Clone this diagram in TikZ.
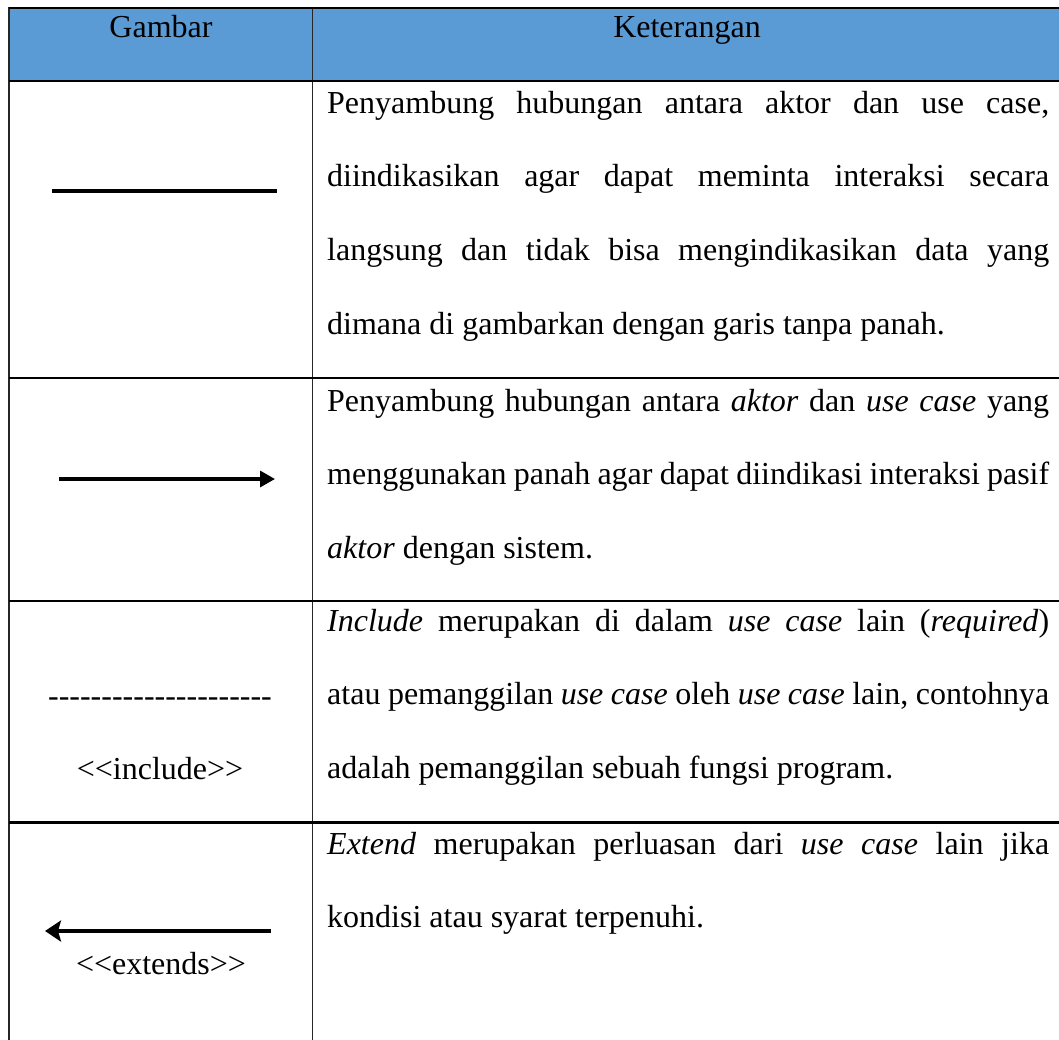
\documentclass[tikz,border=0pt]{standalone}
\usepackage{fontspec}
\setmainfont{Liberation Serif}[Ligatures=TeXOff]
\usetikzlibrary{arrows.meta}
\definecolor{hdrblue}{HTML}{5B9BD5}
\hyphenpenalty=10000
\tolerance=9999
\newcommand{\ketstrut}{\rule{0pt}{26pt}}

\begin{document}
\begin{tikzpicture}[x=1pt, y=-1pt,
  colline/.style={line width=1.8pt, black!85},
  rowline/.style={line width=2.4pt},
  keter/.style={anchor=north west, inner sep=0pt, text width=722pt, align=justify,
    font=\fontsize{32}{73.6}\selectfont},
  lbl/.style={anchor=base, inner sep=0pt, font=\fontsize{32}{38}\selectfont},
  garis/.style={line width=3.5pt},
  panah/.style={line width=3.3pt, -{Triangle[length=15pt,width=16pt]}},
  panahext/.style={line width=3.8pt, -{Stealth[length=16pt,width=21pt,inset=3pt]}}
]
\useasboundingbox (0,0) rectangle (1059,1039);
%\draw[help lines] (0,0) grid[step=100] (1059,1039);

% header
\fill[hdrblue] (9,8) rectangle (1062,81);
\node[lbl] (gbr) at (161,37) {Gambar};
\node[lbl] (ket) at (687,37) {Keterangan};

% grid
\foreach \x in {9,312.5,1062}
  \draw[colline] (\x,7) -- (\x,1045);
\foreach \y in {8,81,378,601,822.5}
  \draw[rowline] (9,\y) -- (1062,\y);

% keterangan
\node[keter] (k1) at (327,87) {\ketstrut Penyambung hubungan antara aktor dan use case,\linebreak
  diindikasikan agar dapat meminta interaksi secara\linebreak
  langsung dan tidak bisa mengindikasikan data yang\linebreak
  dimana di gambarkan dengan garis tanpa panah.};
\node[keter] (k2) at (327,385) {\ketstrut Penyambung hubungan antara \emph{aktor} dan \emph{use case} yang\linebreak
  menggunakan panah agar dapat diindikasi interaksi pasif\linebreak
  \emph{aktor} dengan sistem.};
\node[keter] (k3) at (327,605) {\ketstrut\emph{Include} merupakan di dalam \emph{use case} lain (\emph{required})\linebreak
  atau pemanggilan \emph{use case} oleh \emph{use case} lain, contohnya\linebreak
  adalah pemanggilan sebuah fungsi program.};
\node[keter] (k4) at (327,828) {\ketstrut\emph{Extend} merupakan perluasan dari \emph{use case} lain jika\linebreak
  kondisi atau syarat terpenuhi.};

% gambar
\coordinate (a1) at (52,191);
\coordinate (b1) at (277,191);
\draw[garis] (a1) -- (b1);

\coordinate (a2) at (59,479);
\coordinate (b2) at (275,479);
\draw[panah] (a2) -- (b2);

\node[lbl] (dash) at (160,706) {---------------------};
\node[lbl] (inc) at (160,779) {<<include>>};

\coordinate (a4) at (271,931);
\coordinate (b4) at (45,931);
\draw[panahext] (a4) -- (b4);
\node[lbl] (ext) at (161,974) {<<extends>>};
\end{tikzpicture}
\end{document}
